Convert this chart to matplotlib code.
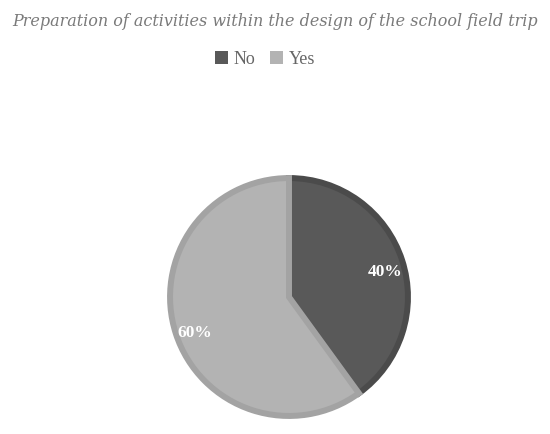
import matplotlib
matplotlib.use("Agg")
import matplotlib.pyplot as plt
from matplotlib.patches import Patch

categories = ["No", "Yes"]
values = [40, 60]
fill_colors = ["#595959", "#b3b3b3"]
edge_colors = ["#4b4b4b", "#a3a3a3"]
title = "Preparation of activities within the design of the school field trip"

fig = plt.figure(figsize=(5.5, 4.34), dpi=100)
fig.patch.set_facecolor("white")

pax = fig.add_axes([(289 - 122) / 550, 1 - (297 + 122) / 434, 244 / 550, 244 / 434])
wedges, texts, autotexts = pax.pie(
    values, colors=fill_colors, startangle=90, counterclock=False,
    radius=0.975, autopct="%d%%", pctdistance=0.84,
    wedgeprops=dict(linewidth=4.3, joinstyle="miter"),
    textprops=dict(color="white", fontsize=12.5, fontweight="bold", family="Liberation Serif"))
for w, ec in zip(wedges, edge_colors):
    w.set_edgecolor(ec)
for t in autotexts:
    x, y = t.get_position()
    t.set_position((x + 0.01, y - 0.045))
pax.set_xlim(-1, 1)
pax.set_ylim(-1, 1)

fig.text(0.5, 1 - 21 / 434, title, ha="center", va="center", fontsize=11.5,
         style="italic", color="#7a7a7a", family="DejaVu Serif")

handles = [Patch(facecolor=c, edgecolor="none") for c in fill_colors]
leg = fig.legend(handles, categories, loc="center", bbox_to_anchor=(265 / 550, 1 - 59 / 434),
                 ncol=2, frameon=False, handlelength=0.75, handleheight=0.75,
                 handletextpad=0.3, columnspacing=0.8,
                 prop=dict(family="Liberation Serif", size=13))
for t in leg.get_texts():
    t.set_color("#666666")

fig.savefig("out.png", dpi=100)
